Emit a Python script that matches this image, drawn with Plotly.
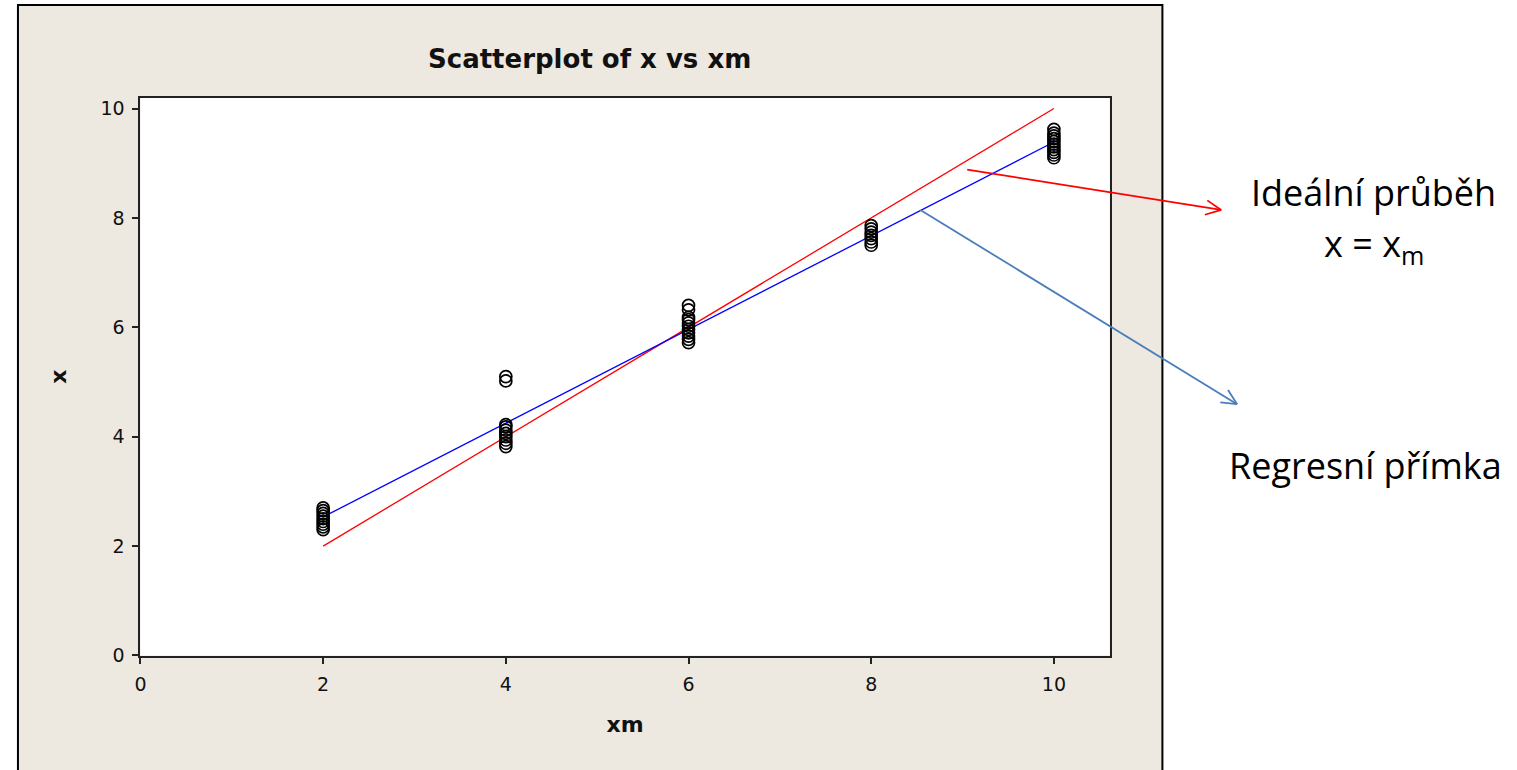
import numpy as np
import plotly.graph_objects as go

# ---- data ----
xm_values = [2, 2, 2, 2, 2, 2, 2, 2, 2,
             4, 4, 4, 4, 4, 4, 4, 4, 4, 4,
             6, 6, 6, 6, 6, 6, 6, 6, 6, 6, 6,
             8, 8, 8, 8, 8, 8, 8,
             10, 10, 10, 10, 10, 10, 10, 10, 10, 10, 10]
x_values = [2.3, 2.35, 2.4, 2.45, 2.5, 2.55, 2.6, 2.65, 2.7,
            3.82, 3.88, 3.94, 4.0, 4.06, 4.12, 4.18, 4.22, 5.02, 5.1,
            5.72, 5.78, 5.84, 5.9, 5.96, 6.02, 6.08, 6.14, 6.18, 6.32, 6.4,
            7.5, 7.56, 7.62, 7.68, 7.74, 7.8, 7.86,
            9.1, 9.15, 9.2, 9.25, 9.3, 9.35, 9.4, 9.45, 9.5, 9.55, 9.62]
line_x = [2, 10]
x_ticks = [0, 2, 4, 6, 8, 10]
y_ticks = [0, 2, 4, 6, 8, 10]

slope, intercept = np.polyfit(xm_values, x_values, 1)
reg_y = [intercept + slope * v for v in line_x]
ideal_y = list(line_x)

W, H = 1517, 770
def px(x):
    return x / W
def py(y):
    return (H - y) / H

fig = go.Figure()
fig.add_trace(go.Scatter(x=line_x, y=ideal_y, mode="lines",
                         line=dict(color="#ff0000", width=1.3), showlegend=False))
fig.add_trace(go.Scatter(x=line_x, y=reg_y, mode="lines",
                         line=dict(color="#0000ff", width=1.3), showlegend=False))
fig.add_trace(go.Scatter(x=xm_values, y=x_values, mode="markers",
                         marker=dict(symbol="circle-open", size=12, color="#000",
                                     line=dict(width=1.7, color="#000")),
                         showlegend=False))

shapes = [
    dict(type="rect", xref="paper", yref="paper", x0=px(12), x1=px(1161), y0=py(800), y1=py(5),
         fillcolor="#EDE9E0", line=dict(color="black", width=2), layer="below"),
    dict(type="rect", xref="paper", yref="paper", x0=px(135), x1=px(1108), y0=py(665), y1=py(99),
         fillcolor="white", line=dict(width=0), layer="below"),
]

def arrow(x0, y0, x1, y1, color):
    shapes.append(dict(type="line", xref="paper", yref="paper", x0=px(x0), y0=py(y0), x1=px(x1), y1=py(y1),
                       line=dict(color=color, width=1.8)))
    ang = np.arctan2(y1 - y0, x1 - x0)
    L = 17
    for d in (0.45, -0.45):
        hx = x1 - L * np.cos(ang + d)
        hy = y1 - L * np.sin(ang + d)
        shapes.append(dict(type="line", xref="paper", yref="paper", x0=px(hx), y0=py(hy), x1=px(x1), y1=py(y1),
                           line=dict(color=color, width=1.8)))

arrow(965, 172, 1220, 213, "#ff0000")
arrow(918, 213, 1236, 410, "#4A7EBB")

annotations = [
    dict(text="<b>Scatterplot of x vs xm</b>", xref="paper", yref="paper", x=px(586), y=py(60),
         xanchor="center", yanchor="middle",
         showarrow=False, font=dict(family="DejaVu Sans", size=26, color="#111")),
    dict(text="Ideální průběh", xref="paper", yref="paper", x=px(1373), y=py(195),
         xanchor="center", yanchor="middle",
         showarrow=False, font=dict(family="Open Sans", size=36, color="black")),
    dict(text="x = x<sub>m</sub>", xref="paper", yref="paper", x=px(1373), y=py(249),
         xanchor="center", yanchor="middle",
         showarrow=False, font=dict(family="Open Sans", size=36, color="black")),
    dict(text="Regresní přímka", xref="paper", yref="paper", x=px(1365), y=py(472),
         xanchor="center", yanchor="middle",
         showarrow=False, font=dict(family="Open Sans", size=36, color="black")),
]

tickfont = dict(family="DejaVu Sans", size=19, color="#111")
fig.update_layout(
    width=W, height=H,
    margin=dict(l=0, r=0, t=0, b=0),
    paper_bgcolor="white",
    plot_bgcolor="rgba(0,0,0,0)",
    shapes=shapes,
    annotations=annotations,
    xaxis=dict(domain=[px(135), px(1108)], range=[0, 10.61], tickvals=x_ticks,
               showgrid=False, zeroline=False, showline=True, linecolor="#222", linewidth=2,
               mirror=True, ticks="outside", ticklen=6, tickcolor="#222", tickwidth=1.5,
               tickfont=tickfont, ticklabelstandoff=5,
               title=dict(text="<b>xm</b>", font=dict(family="DejaVu Sans", size=22, color="#111"), standoff=22)),
    yaxis=dict(domain=[py(665), py(99)], range=[0, 10.2], tickvals=y_ticks,
               showgrid=False, zeroline=False, showline=True, linecolor="#222", linewidth=2,
               mirror=True, ticks="outside", ticklen=6, tickcolor="#222", tickwidth=1.5,
               tickfont=tickfont, ticklabelstandoff=4,
               title=dict(text="<b>x</b>", font=dict(family="DejaVu Sans", size=22, color="#111"), standoff=28)),
)

fig.write_html("out.html")
